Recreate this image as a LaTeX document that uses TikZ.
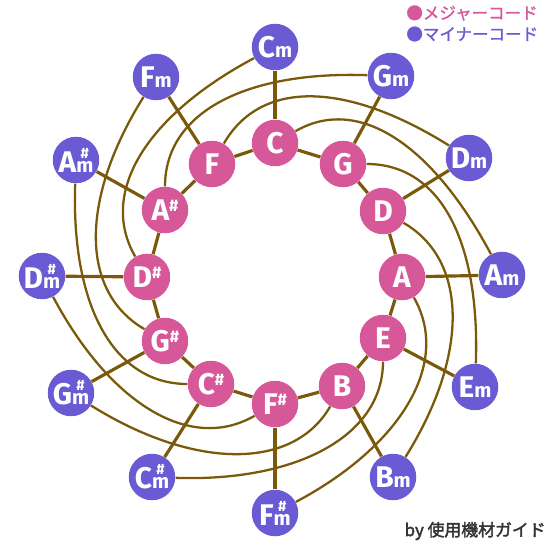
\documentclass[tikz,border=0pt]{standalone}
\usepackage{fontspec}
\setmainfont{Fira Sans}
\newfontfamily\cjk[AutoFakeBold=1.2]{Noto Sans CJK JP}
\newfontfamily\cjkb[AutoFakeBold=2.2]{Noto Sans CJK JP}
\definecolor{majc}{RGB}{215,88,152}
\definecolor{minc}{RGB}{106,90,212}
\definecolor{linec}{RGB}{122,90,10}
\definecolor{signc}{RGB}{51,51,51}
\newcommand\shp{\raisebox{5.2pt}{\fontsize{9.5}{9.5}\selectfont\#}}
\newcommand\mi{{\fontsize{11.5}{11.5}\selectfont m}}
\newcommand\shm{\ooalign{\hfil\raisebox{8pt}{\fontsize{8.5}{8.5}\selectfont\#}\hfil\cr\mi}}
\begin{document}
\begin{tikzpicture}[x=0.02cm,y=-0.02cm,
  majnode/.style={circle,fill=majc,minimum size=0.93cm,inner sep=0pt,text=white,font=\bfseries\fontsize{17}{17}\selectfont},
  minnode/.style={circle,fill=minc,minimum size=0.93cm,inner sep=0pt,text=white,font=\bfseries\fontsize{17}{17}\selectfont},
  link/.style={draw=linec,line width=1.8pt},
  spiral/.style={draw=linec,line width=1.3pt},
  legend/.style={anchor=west,inner sep=0pt,font=\cjk\bfseries\fontsize{9.4}{9.4}\selectfont}]
\useasboundingbox (0,0) rectangle (550,550);
% major chords
\node[majnode] (M0) at (275,143) {C};
\node[majnode] (M1) at (343,164) {G};
\node[majnode] (M2) at (383,211) {D};
\node[majnode] (M3) at (402,277) {A};
\node[majnode] (M4) at (383,338) {E};
\node[majnode] (M5) at (342,386) {B};
\node[majnode] (M6) at (275,404) {F\shp};
\node[majnode] (M7) at (211,384) {C\shp};
\node[majnode] (M8) at (165,341) {G\shp};
\node[majnode] (M9) at (147,277) {D\shp};
\node[majnode] (M10) at (165,210) {A\shp};
\node[majnode] (M11) at (212,164) {F};
% minor chords
\node[minnode] (m0) at (275,47) {C\mi};
\node[minnode] (m1) at (391,76) {G\mi};
\node[minnode] (m2) at (469,158) {D\mi};
\node[minnode] (m3) at (502,275) {A\mi};
\node[minnode] (m4) at (475,387) {E\mi};
\node[minnode] (m5) at (393,477) {B\mi};
\node[minnode] (m6) at (275,513) {F\shm};
\node[minnode] (m7) at (152,477) {C\shm};
\node[minnode] (m8) at (71,393) {G\shm};
\node[minnode] (m9) at (42,276) {D\shm};
\node[minnode] (m10) at (76,160) {A\shm};
\node[minnode] (m11) at (156,77) {F\mi};
% straight links
\foreach \i in {0,...,11} {
  \pgfmathtruncatemacro\k{mod(\i+1,12)}
  \draw[link] (M\i) -- (M\k);
  \draw[link] (M\i) -- (m\i);
}
% spirals: minor -> relative major
\foreach \i in {0,...,11} {
  \pgfmathtruncatemacro\j{mod(\i+9,12)}
  \pgfmathsetmacro\ao{90-30*\i+118}
  \pgfmathsetmacro\ai{90-30*\i+30}
  \draw[spiral] (m\i) to[out=\ao,in=\ai,out distance=2.4cm,in distance=1.5cm] (M\j);
}
% legend
\node[legend,text=majc] (leg1) at (406,13) {●メジャーコード};
\node[legend,text=minc] (leg2) at (406,34) {●マイナーコード};
\node[anchor=east,inner sep=0pt,text=signc,font=\cjkb\bfseries\fontsize{9.6}{9.6}\selectfont] (sign) at (546,531) {by 使用機材ガイド};
\end{tikzpicture}
\end{document}
